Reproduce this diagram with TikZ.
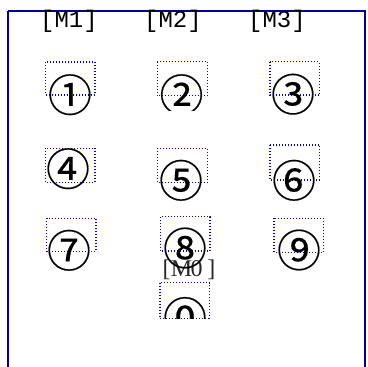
\documentclass[tikz,border=0pt]{standalone}
\usepackage{fontspec}
\setmainfont{Liberation Serif}
\newfontfamily\cjk[FakeBold=0.3]{Noto Sans CJK JP}
\newfontfamily\lmono{Liberation Mono}
\definecolor{framec}{RGB}{0,0,140}
\definecolor{dotc}{RGB}{10,10,150}
\begin{document}
\begin{tikzpicture}[x=1pt,y=-1pt,
  frameline/.style={draw=framec,line width=2pt},
  dotbox/.style={draw=dotc,line width=1.2pt,dash pattern=on 1pt off 2pt},
  circnum/.style={inner sep=0pt,font=\cjk\fontsize{44}{44}\selectfont},
  mlabel/.style={inner sep=0pt,font=\lmono\fontsize{24}{24}\selectfont},
  slabel/.style={inner sep=0pt,text=black!85,font=\fontsize{24}{24}\selectfont}]
\useasboundingbox (0,0) rectangle (367,367);
\draw[frameline] (8,10.5) -- (365.3,10.5) -- (365.3,380);
\draw[frameline] (8,10.5) -- (8,380);
% labels
\node[mlabel] (m1) at (69,21.7) {[M1]};
\node[mlabel] (m2) at (173,21.7) {[M2]};
\node[mlabel] (m3) at (277,21.7) {[M3]};
\node[slabel] (m0) at (189,270) {\makebox[15pt]{[}\makebox[15pt]{M}\makebox[15pt]{0}\makebox[15pt]{]}};
% boxes
\draw[dotbox] (45.7,62) rectangle (95,95);
\draw[dotbox] (157.3,61.7) rectangle (207.7,95.7);
\draw[dotbox] (270,61.7) rectangle (319.3,95);
\draw[dotbox] (45.7,148.3) rectangle (95,182.7);
\draw[dotbox] (157.7,148.3) rectangle (207.3,182.7);
\draw[dotbox] (270,145) rectangle (319.3,180);
\draw[dotbox] (46.7,218.3) rectangle (96,251.7);
\draw[dotbox] (160.7,216.7) rectangle (210,251);
\draw[dotbox] (274,218.3) rectangle (323.3,252.3);
\draw[dotbox] (160,282.7) rectangle (209.3,318.3);
% circled numbers
\node[circnum] (c1) at (70,94.7) {①};
\begin{scope}
\clip (150,60) rectangle (215,110);
\node[circnum] (c2) at (181.5,94.7) {②};
\end{scope}
\node[circnum] (c3) at (293,94.2) {③};
\node[circnum] (c4) at (68,168.7) {④};
\node[circnum] (c5) at (181,180.3) {⑤};
\node[circnum] (c6) at (294,180.3) {⑥};
\node[circnum] (c7) at (69,250.3) {⑦};
\node[circnum] (c8) at (185,248) {⑧};
\node[circnum] (c9) at (299,250) {⑨};
\begin{scope}
\clip (150,280) rectangle (220,318.3);
\node[circnum] (c0) at (185,317.5) {⓪};
\end{scope}
\end{tikzpicture}
\end{document}
